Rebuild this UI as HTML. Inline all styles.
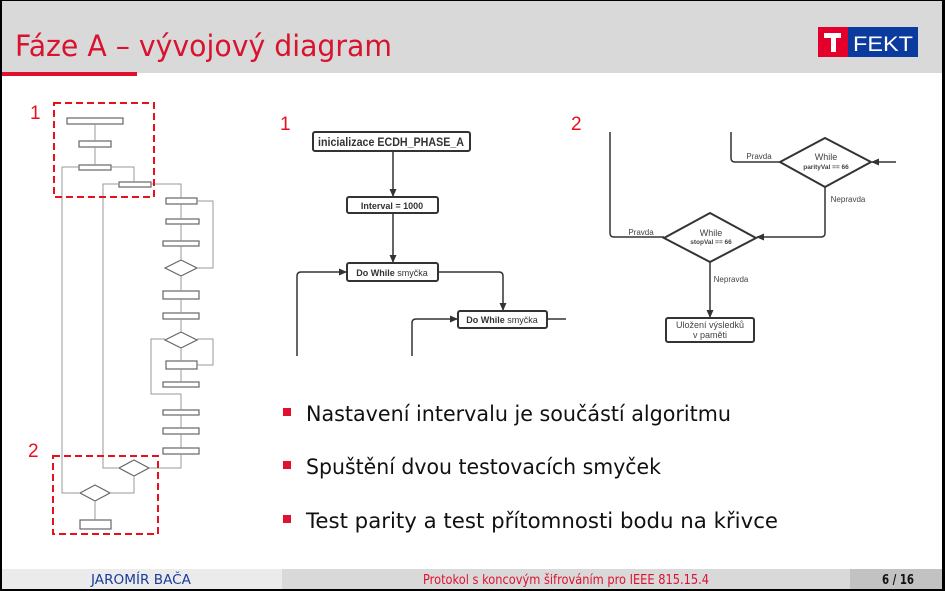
<!DOCTYPE html>
<html><head><meta charset="utf-8"><style>
html,body{margin:0;padding:0;background:#fff}
svg{display:block}
text{font-family:"DejaVu Sans","Liberation Sans",sans-serif}
.l text, text.l{font-family:"Liberation Sans",sans-serif}
</style></head><body>
<svg width="945" height="591" viewBox="0 0 945 591" xmlns="http://www.w3.org/2000/svg">
<defs>
<marker id="a" markerWidth="8" markerHeight="8" refX="7" refY="4" orient="auto" markerUnits="userSpaceOnUse"><path d="M0,0.5 L8,4 L0,7.5z" fill="#333"/></marker>
</defs>
<rect width="945" height="591" fill="#fff"/>
<!-- header -->
<rect x="0" y="0" width="945" height="73" fill="#d9d9d9"/>
<rect x="0" y="72" width="137" height="4" fill="#e0102f"/>
<text x="15" y="56" font-size="29" fill="#d9122e" textLength="377" lengthAdjust="spacingAndGlyphs">Fáze A – vývojový diagram</text>
<rect x="818" y="27" width="30" height="30" fill="#e4002b"/>
<rect x="848" y="27" width="70" height="30" fill="#0b3b9e"/>
<path d="M824,33 H841 V38 H836 V52 H831 V38 H824z" fill="#fff"/>
<text class="l" x="853" y="51" font-size="21" fill="#fff" textLength="60" lengthAdjust="spacingAndGlyphs">FEKT</text>

<!-- mini diagram -->
<g stroke="#666" stroke-width="1.2" fill="#fff">
<rect x="67" y="118" width="56" height="6"/>
<rect x="79" y="141" width="32" height="6"/>
<rect x="79" y="165" width="32" height="5"/>
<rect x="119" y="182" width="32" height="5"/>
<rect x="166" y="198" width="31" height="6"/>
<rect x="166" y="219" width="33" height="5"/>
<rect x="163" y="241" width="36" height="5"/>
<path d="M165,268 L181,260 L197,268 L181,276z"/>
<rect x="163" y="291" width="36" height="8"/>
<rect x="163" y="313" width="36" height="6"/>
<path d="M165,340 L181,332 L197,340 L181,348z"/>
<rect x="166" y="361" width="31" height="8"/>
<rect x="163" y="382" width="36" height="5"/>
<rect x="163" y="410" width="36" height="5"/>
<rect x="163" y="428" width="36" height="6"/>
<rect x="163" y="448" width="36" height="6"/>
<path d="M119,468 L134,460 L149,468 L134,476z"/>
<path d="M80,493 L95,485 L110,493 L95,501z"/>
<rect x="80" y="520" width="31" height="9"/>
</g>
<g stroke="#999" stroke-width="1" fill="none">
<path d="M95,124 V141 M95,147 V165 M111,167 H134 V182 M151,184 H181 V198 M181,204 V219 M181,224 V241 M181,246 V260 M181,276 V291 M181,299 V313 M181,319 V332 M181,348 V361 M181,369 V382"/>
<path d="M197,268 H213 V201 H197"/>
<path d="M197,365 H213 V339 H197"/>
<path d="M165,339 H151 V394 H181 V410 M181,415 V428 M181,434 V448 M181,454 V468 H149"/>
<path d="M119,468 H103 V184 H119"/>
<path d="M134,476 V493 H110"/>
<path d="M80,493 H62 V167 H79"/>
<path d="M95,501 V520"/>
</g>
<g stroke="#e8101c" stroke-width="2" fill="none" stroke-dasharray="7,4">
<rect x="54" y="103" width="100" height="94"/>
<rect x="53" y="456" width="105" height="78"/>
</g>
<g class="l" fill="#e8101c" font-size="19">
<text x="30" y="119">1</text><text x="28" y="457">2</text>
<text x="280" y="130">1</text><text x="571" y="130">2</text>
</g>

<!-- diagram 1 -->
<g stroke="#333" stroke-width="2" fill="#fff">
<rect x="313" y="132" width="157" height="19" rx="2"/>
<rect x="347" y="197" width="91" height="16" rx="2"/>
<rect x="347" y="263" width="91" height="18" rx="2"/>
<rect x="458" y="311" width="89" height="17" rx="2"/>
</g>
<g stroke="#333" stroke-width="1.5" fill="none">
<path d="M393,151 V196" marker-end="url(#a)"/>
<path d="M393,213 V262" marker-end="url(#a)"/>
<path d="M297,356 V276 Q297,272 301,272 H346" marker-end="url(#a)"/>
<path d="M438,272 H499 Q503,272 503,276 V310" marker-end="url(#a)"/>
<path d="M412,356 V323 Q412,319 416,319 H457" marker-end="url(#a)"/>
<path d="M547,319 H566"/>
</g>
<g class="l" fill="#333" text-anchor="middle">
<text x="391" y="146" font-size="12" font-weight="bold" textLength="146" lengthAdjust="spacingAndGlyphs">inicializace ECDH_PHASE_A</text>
<text x="392" y="209" font-size="9" font-weight="bold">Interval = 1000</text>
<text x="392" y="276" font-size="9"><tspan font-weight="bold">Do While</tspan> smyčka</text>
<text x="502" y="323" font-size="9"><tspan font-weight="bold">Do While</tspan> smyčka</text>
</g>

<!-- diagram 2 -->
<g stroke="#333" stroke-width="1.5" fill="none">
<path d="M610,132 V233 Q610,237 614,237 H664"/>
<path d="M731,132 V158 Q731,162 735,162 H780"/>
<path d="M896,162 H872" marker-end="url(#a)"/>
<path d="M825,187 V233 Q825,237 821,237 H757" marker-end="url(#a)"/>
<path d="M710,262 V317" marker-end="url(#a)"/>
</g>
<g stroke="#333" stroke-width="2" fill="#fff">
<path d="M780,162 L825,138 L871,162 L825,187z"/>
<path d="M664,238 L710,213 L756,238 L710,262z"/>
<rect x="666" y="318" width="88" height="24" rx="2"/>
</g>
<g class="l" fill="#444" text-anchor="middle">
<text x="826" y="160" font-size="9">While</text>
<text x="826" y="169" font-size="6.5" font-weight="bold">parityVal == 66</text>
<text x="711" y="236" font-size="9">While</text>
<text x="711" y="244" font-size="6.5" font-weight="bold">stopVal == 66</text>
<text x="759" y="159" font-size="8">Pravda</text>
<text x="641" y="235" font-size="8">Pravda</text>
<text x="848" y="202" font-size="8">Nepravda</text>
<text x="731" y="282" font-size="8">Nepravda</text>
<text x="710" y="328" font-size="9">Uložení výsledků</text>
<text x="710" y="338" font-size="9">v paměti</text>
</g>

<!-- bullets -->
<g fill="#e0102f"><rect x="283" y="408" width="8" height="8"/><rect x="283" y="461" width="8" height="8"/><rect x="283" y="515" width="8" height="8"/></g>
<g font-size="21" fill="#111">
<text x="306" y="421" textLength="425" lengthAdjust="spacingAndGlyphs">Nastavení intervalu je součástí algoritmu</text>
<text x="306" y="474" textLength="355" lengthAdjust="spacingAndGlyphs">Spuštění dvou testovacích smyček</text>
<text x="306" y="528" textLength="472" lengthAdjust="spacingAndGlyphs">Test parity a test přítomnosti bodu na křivce</text>
</g>

<!-- footer -->
<rect x="0" y="569" width="282" height="20" fill="#ebebeb"/>
<rect x="282" y="569" width="568" height="20" fill="#d9d9d9"/>
<rect x="850" y="569" width="95" height="20" fill="#c2c2c2"/>
<g font-size="13" text-anchor="middle">
<text x="141" y="584" fill="#1a3c9a" textLength="100" lengthAdjust="spacingAndGlyphs">JAROMÍR BAČA</text>
<text x="566" y="584" fill="#e0102f" textLength="286" lengthAdjust="spacingAndGlyphs">Protokol s koncovým šifrováním pro IEEE 815.15.4</text>
<text x="898" y="584" fill="#111" font-weight="bold" textLength="32" lengthAdjust="spacingAndGlyphs">6 / 16</text>
</g>
<!-- frame -->
<rect x="0" y="0" width="945" height="1" fill="#000"/>
<rect x="0" y="0" width="2" height="591" fill="#000"/>
<rect x="942" y="0" width="3" height="591" fill="#000"/>
<rect x="0" y="589" width="945" height="2" fill="#000"/>
</svg>
</body></html>
